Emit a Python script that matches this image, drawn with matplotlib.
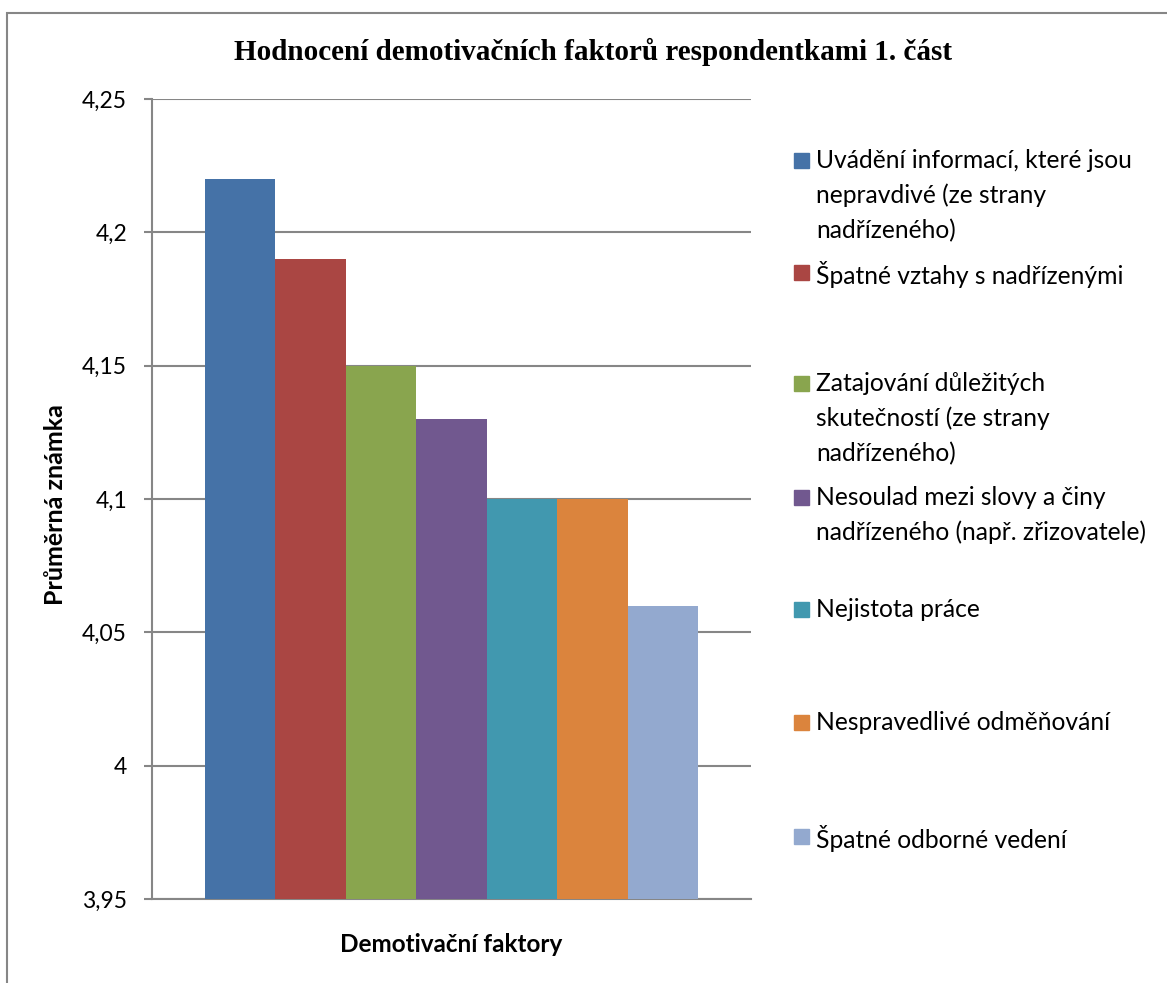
import numpy as np
import matplotlib.pyplot as plt
from matplotlib.patches import Rectangle

# average grade per demotivating factor
factors = [
    "Uvádění informací, které jsou\nnepravdivé (ze strany\nnadřízeného)",
    "Špatné vztahy s nadřízenými",
    "Zatajování důležitých\nskutečností (ze strany\nnadřízeného)",
    "Nesoulad mezi slovy a činy\nnadřízeného (např. zřizovatele)",
    "Nejistota práce",
    "Nespravedlivé odměňování",
    "Špatné odborné vedení",
]
scores = [4.22, 4.19, 4.15, 4.13, 4.10, 4.10, 4.06]
colors = ["#4572A7", "#AA4643", "#89A54E", "#71588F", "#4198AF", "#DB843D", "#93A9CF"]
yticks = [3.95, 4.0, 4.05, 4.1, 4.15, 4.2, 4.25]
ytick_labels = ["3,95", "4", "4,05", "4,1", "4,15", "4,2", "4,25"]

W, H = 1167, 983
fig = plt.figure(figsize=(W / 100, H / 100), dpi=100)
sans = "Lato"
grid_c = "#868686"

ax = fig.add_axes([152 / W, (H - 899) / H, (751 - 152) / W, (899 - 99) / H])
x = np.arange(len(scores))
ax.bar(x, scores, width=1.0, color=colors, zorder=3)
ax.set_xlim(-1.253, 7.253)
ax.set_ylim(3.95, 4.25)
ax.set_yticks(yticks)
ax.set_yticklabels(ytick_labels, fontfamily=sans, fontsize=16.5)
ax.set_xticks([])
ax.yaxis.grid(True, color=grid_c, linewidth=1.5, zorder=0)
for s in ["top", "right"]:
    ax.spines[s].set_visible(False)
for s in ["left", "bottom"]:
    ax.spines[s].set_color(grid_c)
    ax.spines[s].set_linewidth(1.5)
ax.tick_params(axis="y", length=6, width=1.5, color=grid_c, pad=12)

fig.text(593 / W, 1 - 52 / H, "Hodnocení demotivačních faktorů respondentkami 1. část",
         ha="center", va="center", fontfamily="Liberation Serif",
         fontweight="bold", fontsize=21)
fig.text(56 / W, 1 - 505 / H, "Průměrná známka", rotation=90, ha="center",
         va="center", fontfamily=sans, fontweight="bold", fontsize=18)
fig.text(451 / W, 1 - 944 / H, "Demotivační faktory", ha="center", va="center",
         fontfamily=sans, fontweight="bold", fontsize=17.5)

# legend entries, first lines evenly spaced
first_line = [160, 272, 383, 497, 609, 722, 836]
for lab, c, yy in zip(factors, colors, first_line):
    fig.patches.append(Rectangle((794 / W, 1 - (yy + 7.5) / H), 15 / W, 15 / H,
                                 transform=fig.transFigure, color=c))
    fig.text(816 / W, 1 - (yy - 11) / H, lab, ha="left", va="top",
             fontfamily=sans, fontsize=17.7, linespacing=1.6)

fig.patches.append(Rectangle((6.5 / W, -0.1), 1.2, 1 - 12.5 / H + 0.1,
                             transform=fig.transFigure, fill=False,
                             edgecolor=grid_c, linewidth=1.5))

fig.savefig("out.png", dpi=100, facecolor="white")
